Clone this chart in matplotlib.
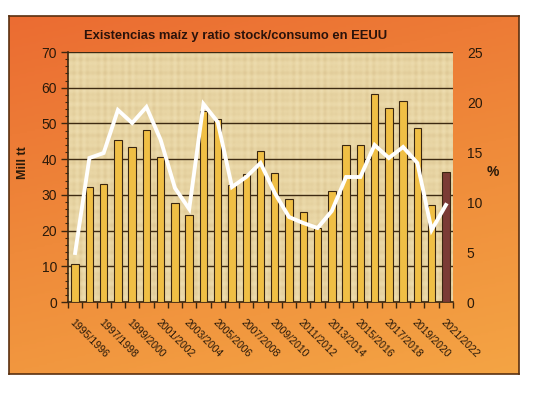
import numpy as np
import matplotlib
matplotlib.use("Agg")
import matplotlib.pyplot as plt
from matplotlib.colors import LinearSegmentedColormap

plt.rcParams['font.family'] = ['Liberation Sans', 'DejaVu Sans']

seasons = ["1995/1996", "1996/1997", "1997/1998", "1998/1999", "1999/2000",
           "2000/2001", "2001/2002", "2002/2003", "2003/2004", "2004/2005",
           "2005/2006", "2006/2007", "2007/2008", "2008/2009", "2009/2010",
           "2010/2011", "2011/2012", "2012/2013", "2013/2014", "2014/2015",
           "2015/2016", "2016/2017", "2017/2018", "2018/2019", "2019/2020",
           "2020/2021", "2021/2022"]
stocks = [10.6, 32.2, 33.1, 45.4, 43.5, 48.1, 40.5, 27.6, 24.4, 53.6,
          51.2, 32.8, 35.9, 42.3, 36.0, 28.8, 25.1, 20.8, 31.2, 44.0,
          44.0, 58.2, 54.3, 56.2, 48.6, 27.3, 36.3]
ratio = [4.9, 14.4, 14.9, 19.2, 17.9, 19.5, 16.2, 11.4, 9.3, 19.8,
         18.0, 11.5, 12.5, 13.9, 10.9, 8.5, 7.9, 7.4, 9.1, 12.5,
         12.5, 15.7, 14.4, 15.5, 13.9, 7.2, 9.7]

W, H = 533, 394
fig = plt.figure(figsize=(W / 100, H / 100), dpi=100, facecolor='white')

# orange frame with gradient
bg = fig.add_axes([9 / W, 1 - 374 / H, 510 / W, 358 / H])
cmap = LinearSegmentedColormap.from_list('org', ['#EB6C32', '#EF8A3A', '#F4A444'])
gy, gx = np.mgrid[0:1:200j, 0:1:200j]
grad = 0.75 * gy + 0.25 * gx
bg.imshow(grad, cmap=cmap, aspect='auto', extent=[0, 1, 1, 0], zorder=0)
bg.set_xticks([])
bg.set_yticks([])
for s in bg.spines.values():
    s.set_color('#5a3010')
    s.set_linewidth(1.2)

ax = fig.add_axes([68 / W, 1 - 302 / H, 385 / W, 250 / H])
ax.set_facecolor('#E8D5A4')

# subtle parchment weave (decorative background)
ty, tx = np.mgrid[0:250, 0:385]
weave = (0.5 * np.sin(tx * 0.9) * np.sin(tx * 0.13) + 0.5 * np.sin(ty * 0.7) * np.sin(ty * 0.21))
pcmap = LinearSegmentedColormap.from_list('parch', ['#DCC592', '#E8D5A4', '#F0E0B4'])
ax.imshow(weave, cmap=pcmap, aspect='auto', extent=[-0.5, len(seasons) - 0.5, 0, 70],
          zorder=0, alpha=0.8, interpolation='bilinear')

x = np.arange(len(seasons))
colors = ['#F0BF45'] * (len(seasons) - 1) + ['#7B3B36']
ax.bar(x, stocks, width=0.52, color=colors, edgecolor='#3a2610', linewidth=0.8, zorder=3)
ax.set_xlim(-0.5, len(seasons) - 0.5)
ax.set_ylim(0, 70)
ax.set_yticks(np.arange(0, 71, 10))
ax.set_yticks(np.arange(0, 71, 2), minor=True)
ax.yaxis.grid(True, which='major', color='#3d2a12', linewidth=1.0, zorder=1)
ax.set_axisbelow(True)
ax.tick_params(axis='y', which='major', length=5, width=1, color='#3a2610',
               labelsize=10, pad=3, labelcolor='#2a1a0a')
ax.tick_params(axis='y', which='minor', length=2.5, width=0.8, color='#3a2610')

ax.set_xticks(np.arange(-0.5, len(seasons), 1))
ax.set_xticklabels([])
ax.set_xticks(x[::2], minor=True)
ax.set_xticklabels(seasons[::2], minor=True, rotation=-45, ha='left', va='top',
                   rotation_mode='anchor', fontsize=7.6, color='#2a1a0a')
ax.tick_params(axis='x', which='major', length=4, width=1, color='#3a2610')
ax.tick_params(axis='x', which='minor', length=0, pad=11)

for side in ['top', 'right']:
    ax.spines[side].set_visible(False)
for side in ['left', 'bottom']:
    ax.spines[side].set_color('#3a2610')
    ax.spines[side].set_linewidth(1.2)

ax2 = ax.twinx()
ax2.plot(x, ratio, color='white', linewidth=2.8, zorder=5, solid_joinstyle='miter')
ax2.set_ylim(0, 25)
ax2.set_yticks(np.arange(0, 26, 5))
ax2.tick_params(axis='y', length=0, pad=10, labelsize=10, labelcolor='#2a1a0a')
for s in ax2.spines.values():
    s.set_visible(False)

fig.text(236 / W, 1 - 36 / H, 'Existencias maíz y ratio stock/consumo en EEUU',
         ha='center', va='center', fontsize=9.4, fontweight='bold', color='#2a120a')
fig.text(23.5 / W, 1 - 163 / H, 'Mill tt', rotation=90, ha='center', va='center',
         fontsize=9, fontweight='bold', color='#2a1a0a')
fig.text(493 / W, 1 - 172 / H, '%', ha='center', va='center',
         fontsize=10, fontweight='bold', color='#2a1a0a')

fig.savefig('out.png', dpi=100, facecolor='white')
